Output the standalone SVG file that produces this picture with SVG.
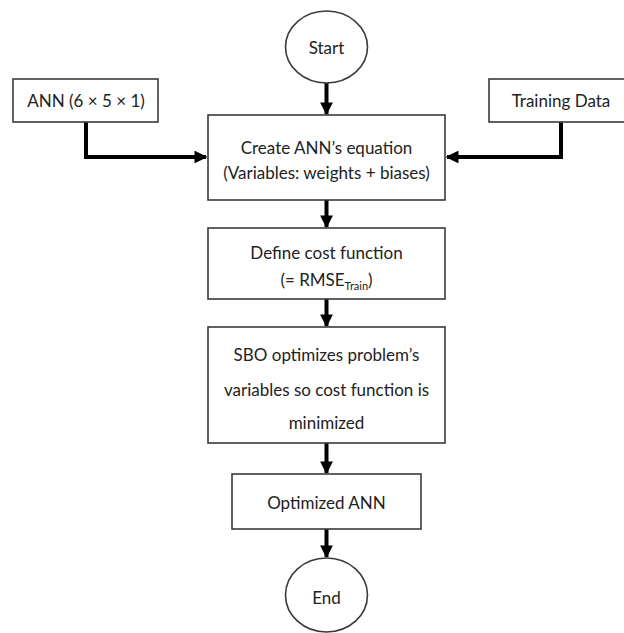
<svg xmlns="http://www.w3.org/2000/svg" width="624" height="633" viewBox="0 0 624 633">
  <defs>
    <style>
      .box { fill: #ffffff; stroke: #3a3a3a; stroke-width: 1.6; }
      .term { fill: #ffffff; stroke: #3a3a3a; stroke-width: 1.6; }
      .lbl { font-family: Lato, "Open Sans", sans-serif; font-size: 17px; fill: #222222; text-anchor: middle; }
      .sub { font-size: 11px; }
      .wire { fill: none; stroke: #000000; stroke-width: 4; }
    </style>
    <marker id="arrow" viewBox="0 0 10 10" refX="9" refY="5" markerWidth="3.2" markerHeight="3.2" orient="auto" markerUnits="strokeWidth">
      <path d="M0,0 L10,5 L0,10 Z" fill="#000000"/>
    </marker>
  </defs>
  <rect width="624" height="633" fill="#ffffff"/>

  <!-- connectors -->
  <g id="connectors">
    <path class="wire" d="M326.5,83 V114" marker-end="url(#arrow)"/>
    <path class="wire" d="M86,122 V157 H206" marker-end="url(#arrow)"/>
    <path class="wire" d="M561,122 V157 H447" marker-end="url(#arrow)"/>
    <path class="wire" d="M326.5,200 V227" marker-end="url(#arrow)"/>
    <path class="wire" d="M326.5,299 V326" marker-end="url(#arrow)"/>
    <path class="wire" d="M326.5,443 V473" marker-end="url(#arrow)"/>
    <path class="wire" d="M326.5,529 V557" marker-end="url(#arrow)"/>
  </g>

  <g id="start">
    <ellipse class="term" cx="326.5" cy="47" rx="41" ry="36"/>
    <text class="lbl" x="326.5" y="54">Start</text>
  </g>

  <g id="ann-input">
    <rect class="box" x="13" y="79" width="145" height="43"/>
    <text class="lbl" x="86" y="107">ANN (6 × 5 × 1)</text>
  </g>

  <g id="training-data">
    <rect class="box" x="489" y="79" width="145" height="43"/>
    <text class="lbl" x="561" y="107">Training Data</text>
  </g>

  <g id="create-equation">
    <rect class="box" x="208" y="115" width="237" height="85"/>
    <text class="lbl" x="326.5" y="154">Create ANN’s equation</text>
    <text class="lbl" x="326.5" y="179">(Variables: weights + biases)</text>
  </g>

  <g id="cost-function">
    <rect class="box" x="208" y="228" width="237" height="71"/>
    <text class="lbl" x="326.5" y="259">Define cost function</text>
    <text class="lbl" x="326.5" y="286">(= RMSE<tspan class="sub" dy="4">Train</tspan><tspan dy="-4">)</tspan></text>
  </g>

  <g id="sbo">
    <rect class="box" x="208" y="327" width="237" height="116"/>
    <text class="lbl" x="326.5" y="361">SBO optimizes problem’s</text>
    <text class="lbl" x="326.5" y="396">variables so cost function is</text>
    <text class="lbl" x="326.5" y="429">minimized</text>
  </g>

  <g id="optimized-ann">
    <rect class="box" x="232" y="474" width="189" height="55"/>
    <text class="lbl" x="326.5" y="509">Optimized ANN</text>
  </g>

  <g id="end">
    <ellipse class="term" cx="326.5" cy="595" rx="41" ry="37"/>
    <text class="lbl" x="326.5" y="604">End</text>
  </g>
</svg>
